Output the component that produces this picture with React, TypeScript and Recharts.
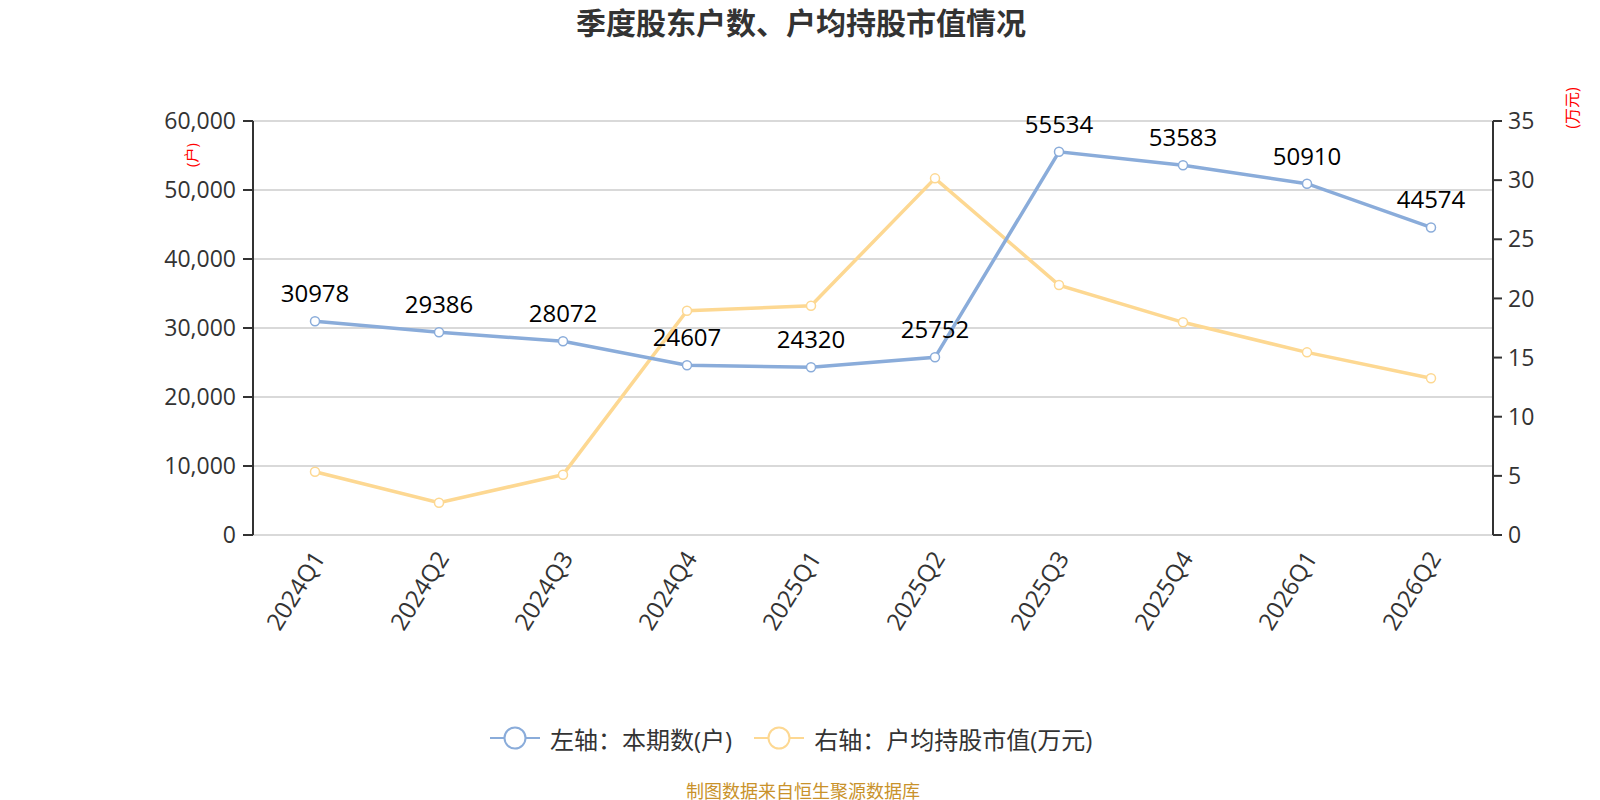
import React from "react";
import { LineChart, Line, XAxis, YAxis, CartesianGrid, LabelList } from "recharts";

// ─── 季度股东户数、户均持股市值情况 ───────────────────────────────────────────

const quarters = ["2024Q1", "2024Q2", "2024Q3", "2024Q4", "2025Q1", "2025Q2", "2025Q3", "2025Q4", "2026Q1", "2026Q2"];
const holders = [30978, 29386, 28072, 24607, 24320, 25752, 55534, 53583, 50910, 44574];
const avgValue = [5.35, 2.73, 5.1, 18.96, 19.38, 30.15, 21.13, 17.98, 15.44, 13.25];

const leftTicks = [0, 10000, 20000, 30000, 40000, 50000, 60000];
const rightTicks = [0, 5, 10, 15, 20, 25, 30, 35];
const bandTicks = quarters.map((_, i) => i).concat(quarters.length);

const BLUE = "#8aacda";
const YELLOW = "#fdd892";
const AXIS = "#333";
const FONT = "'Open Sans', 'Noto Sans CJK SC', sans-serif";

const data = quarters.map((q, i) => ({
  quarter: q,
  pos: i + 0.5,
  holders: holders[i],
  avgValue: avgValue[i],
}));

function QuarterTick({ x, y, payload }: any) {
  return (
    <g transform={`translate(${x + 3},${y + 18})`}>
      <text textAnchor="end" dominantBaseline="central" transform="rotate(-58)" fill={AXIS} fontSize={24} fontFamily={FONT}>
        {payload.value}
      </text>
    </g>
  );
}

function LegendIcon({ color }: { color: string }) {
  return (
    <svg width={50} height={26} style={{ marginRight: 10 }}>
      <line x1={0} y1={13} x2={50} y2={13} stroke={color} strokeWidth={2} />
      <circle cx={25} cy={13} r={10.5} fill="#fff" stroke={color} strokeWidth={2} />
    </svg>
  );
}

export default function App() {
  return (
    <div style={{ position: "absolute", left: 0, top: 0, width: 1600, height: 800, background: "#fff", fontFamily: FONT }}>
      <div style={{ position: "absolute", left: 0, top: 3, width: 1602, textAlign: "center", fontSize: 30, fontWeight: 700, color: "#333", lineHeight: "40px" }}>
        季度股东户数、户均持股市值情况
      </div>

      <LineChart width={1600} height={800} data={data} margin={{ top: 121, right: 0, left: 0, bottom: 135 }}>
        <CartesianGrid yAxisId="left" xAxisId="band" vertical={false} stroke="#ccc" strokeWidth={1.5} />
        <XAxis
          xAxisId="band"
          type="number"
          dataKey="pos"
          domain={[0, quarters.length]}
          ticks={bandTicks}
          tick={false}
          tickSize={8}
          height={0}
          axisLine={{ stroke: AXIS, strokeWidth: 2 }}
          tickLine={{ stroke: AXIS, strokeWidth: 2 }}
        />
        <XAxis
          xAxisId="cat"
          dataKey="quarter"
          scale="band"
          interval={0}
          axisLine={false}
          tickLine={false}
          tickSize={0}
          tickMargin={0}
          height={130}
          tick={<QuarterTick />}
        />
        <YAxis
          yAxisId="left"
          width={253}
          domain={[0, 60000]}
          ticks={leftTicks}
          tickSize={10}
          tickMargin={7}
          tickFormatter={(v: number) => v.toLocaleString("en-US")}
          tick={{ fill: AXIS, fontSize: 23, fontFamily: FONT }}
          axisLine={{ stroke: AXIS, strokeWidth: 2 }}
          tickLine={{ stroke: AXIS, strokeWidth: 2 }}
        />
        <YAxis
          yAxisId="right"
          orientation="right"
          width={107}
          domain={[0, 35]}
          ticks={rightTicks}
          tickSize={9}
          tickMargin={6}
          tick={{ fill: AXIS, fontSize: 23, fontFamily: FONT }}
          axisLine={{ stroke: AXIS, strokeWidth: 2 }}
          tickLine={{ stroke: AXIS, strokeWidth: 2 }}
        />
        <Line
          xAxisId="band"
          yAxisId="right"
          type="linear"
          dataKey="avgValue"
          stroke={YELLOW}
          strokeWidth={3.5}
          dot={{ r: 4.5, fill: "#fff", stroke: YELLOW, strokeWidth: 1.5 }}
          isAnimationActive={false}
        />
        <Line
          xAxisId="band"
          yAxisId="left"
          type="linear"
          dataKey="holders"
          stroke={BLUE}
          strokeWidth={3.5}
          dot={{ r: 4.5, fill: "#fff", stroke: BLUE, strokeWidth: 1.5 }}
          isAnimationActive={false}
        >
          <LabelList dataKey="holders" position="top" offset={19} fill="#000" fontSize={24} fontFamily={FONT} />
        </Line>
      </LineChart>

      <div style={{ position: "absolute", left: 176, top: 143, width: 30, height: 24, lineHeight: "24px", textAlign: "center", color: "red", fontSize: 15, transform: "rotate(-90deg)", whiteSpace: "nowrap" }}>
        (户)
      </div>
      <div style={{ position: "absolute", left: 1542, top: 96, width: 60, height: 24, lineHeight: "24px", textAlign: "center", color: "red", fontSize: 16, transform: "rotate(-90deg)", whiteSpace: "nowrap" }}>
        (万元)
      </div>

      <div style={{ position: "absolute", left: 490, top: 722, height: 32, display: "flex", alignItems: "center", fontSize: 24, color: "#333", whiteSpace: "nowrap" }}>
        <LegendIcon color={BLUE} />
        <span style={{ marginRight: 22 }}>左轴：本期数(户)</span>
        <LegendIcon color={YELLOW} />
        <span>右轴：户均持股市值(万元)</span>
      </div>

      <div style={{ position: "absolute", left: 0, top: 779, width: 1606, textAlign: "center", fontSize: 18, color: "#c9922b", lineHeight: "24px" }}>
        制图数据来自恒生聚源数据库
      </div>
    </div>
  );
}
